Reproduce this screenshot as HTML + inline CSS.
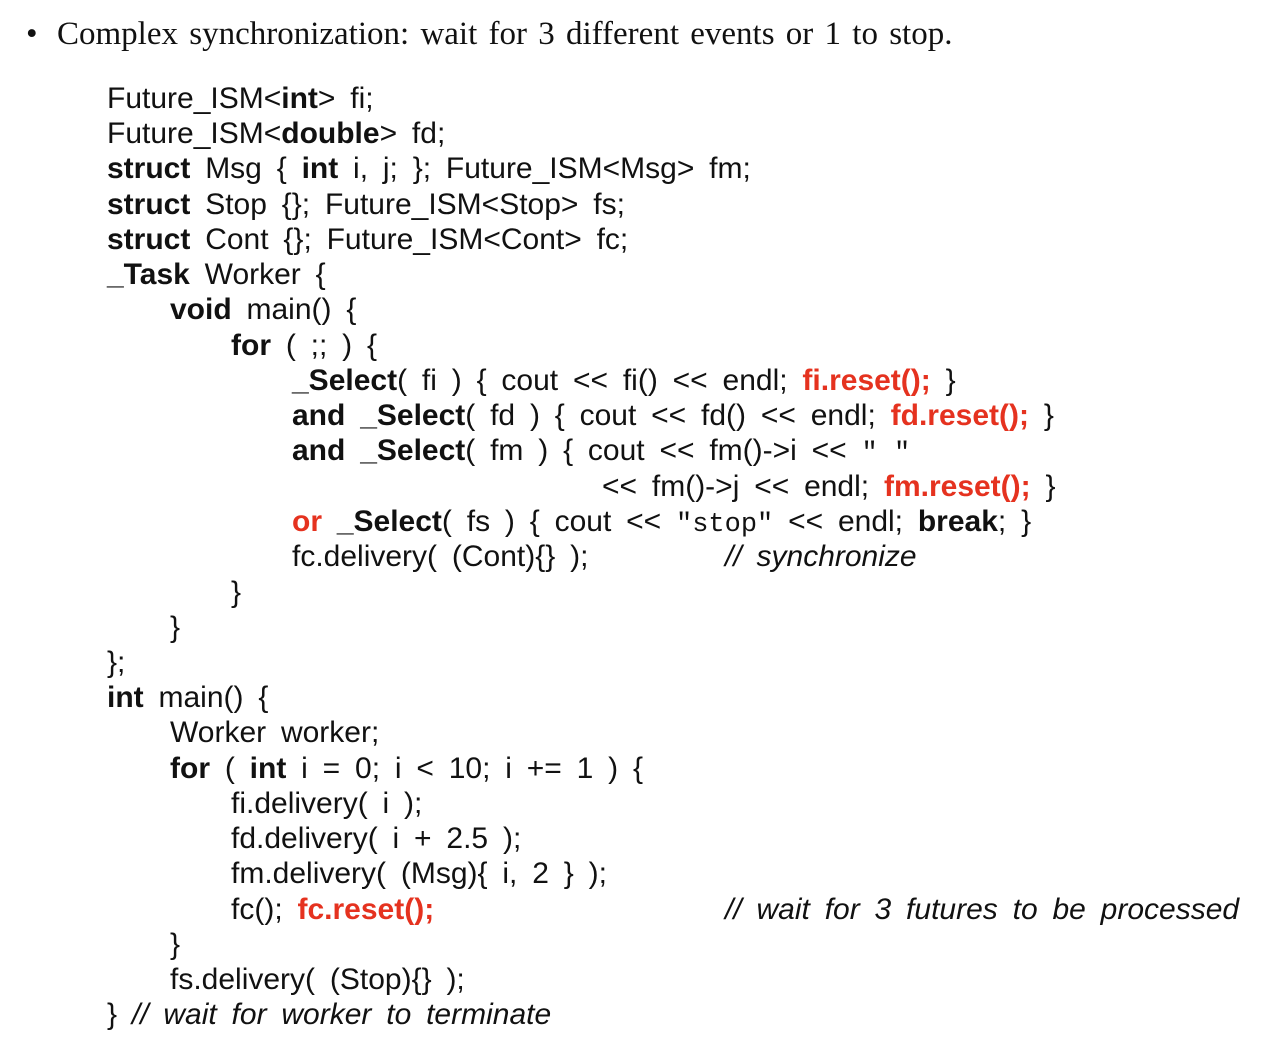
<!DOCTYPE html>
<html><head><meta charset="utf-8"><style>
body{margin:0;width:1288px;height:1062px;background:#fff;position:relative;overflow:hidden;}
.l{position:absolute;font-family:"Liberation Sans",sans-serif;font-size:30px;line-height:35px;white-space:pre;color:#111;word-spacing:6.5px;}
b{font-weight:bold;}
.r{color:#e5321f;font-weight:bold;}
.m{font-family:"Liberation Mono",monospace;font-size:27px;word-spacing:0;}
i{font-style:italic;}
.t{position:absolute;font-family:"Liberation Serif",serif;font-size:33px;line-height:36px;white-space:pre;color:#111;word-spacing:3px;}
</style></head><body>
<div class="t" style="left:26px;top:16px;">•</div>
<div class="t" style="left:57px;top:16px;">Complex synchronization: wait for 3 different events or 1 to stop.</div>
<div class="l" style="left:107px;top:81px;">Future_ISM&lt;<b>int</b>&gt; fi;</div>
<div class="l" style="left:107px;top:116px;">Future_ISM&lt;<b>double</b>&gt; fd;</div>
<div class="l" style="left:107px;top:151px;"><b>struct</b> Msg { <b>int</b> i, j; }; Future_ISM&lt;Msg&gt; fm;</div>
<div class="l" style="left:107px;top:187px;"><b>struct</b> Stop {}; Future_ISM&lt;Stop&gt; fs;</div>
<div class="l" style="left:107px;top:222px;"><b>struct</b> Cont {}; Future_ISM&lt;Cont&gt; fc;</div>
<div class="l" style="left:107px;top:257px;"><b>_Task</b> Worker {</div>
<div class="l" style="left:170px;top:292px;"><b>void</b> main() {</div>
<div class="l" style="left:231px;top:328px;"><b>for</b> ( ;; ) {</div>
<div class="l" style="left:292px;top:363px;"><b>_Select</b>( fi ) { cout &lt;&lt; fi() &lt;&lt; endl; <span class="r">fi.reset();</span> }</div>
<div class="l" style="left:292px;top:398px;"><b>and</b> <b>_Select</b>( fd ) { cout &lt;&lt; fd() &lt;&lt; endl; <span class="r">fd.reset();</span> }</div>
<div class="l" style="left:292px;top:433px;"><b>and</b> <b>_Select</b>( fm ) { cout &lt;&lt; fm()-&gt;i &lt;&lt; <span class="m">" "</span></div>
<div class="l" style="left:602px;top:469px;">&lt;&lt; fm()-&gt;j &lt;&lt; endl; <span class="r">fm.reset();</span> }</div>
<div class="l" style="left:292px;top:504px;"><span class="r">or</span> <b>_Select</b>( fs ) { cout &lt;&lt; <span class="m">"stop"</span> &lt;&lt; endl; <b>break</b>; }</div>
<div class="l" style="left:292px;top:539px;">fc.delivery( (Cont){} );</div>
<div class="l" style="left:725px;top:539px;"><i>// synchronize</i></div>
<div class="l" style="left:231px;top:575px;">}</div>
<div class="l" style="left:170px;top:610px;">}</div>
<div class="l" style="left:107px;top:645px;">};</div>
<div class="l" style="left:107px;top:680px;"><b>int</b> main() {</div>
<div class="l" style="left:170px;top:715px;">Worker worker;</div>
<div class="l" style="left:170px;top:751px;"><b>for</b> ( <b>int</b> i = 0; i &lt; 10; i += 1 ) {</div>
<div class="l" style="left:231px;top:786px;">fi.delivery( i );</div>
<div class="l" style="left:231px;top:821px;">fd.delivery( i + 2.5 );</div>
<div class="l" style="left:231px;top:856px;">fm.delivery( (Msg){ i, 2 } );</div>
<div class="l" style="left:231px;top:892px;">fc(); <span class="r">fc.reset();</span></div>
<div class="l" style="left:725px;top:892px;"><i>// wait for 3 futures to be processed</i></div>
<div class="l" style="left:170px;top:927px;">}</div>
<div class="l" style="left:170px;top:962px;">fs.delivery( (Stop){} );</div>
<div class="l" style="left:107px;top:997px;">} <i>// wait for worker to terminate</i></div>
</body></html>
